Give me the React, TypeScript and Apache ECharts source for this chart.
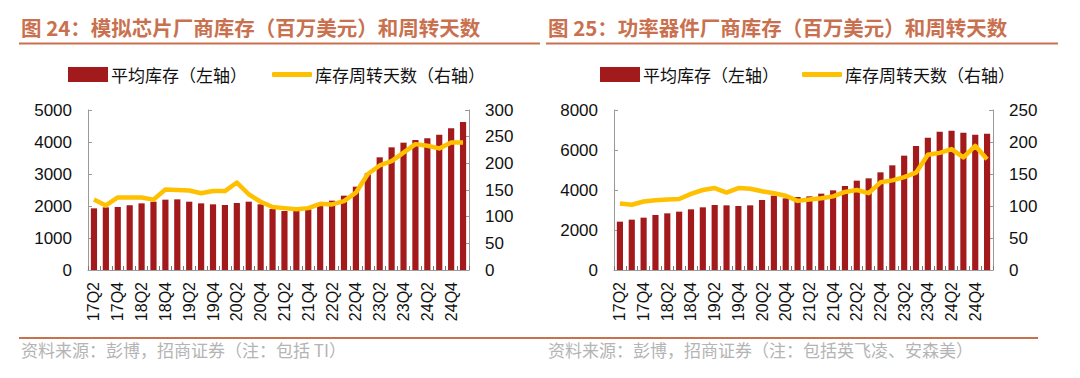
import React, { useEffect, useRef } from "react";
import * as echarts from "echarts";

const categories = [
  "17Q2","17Q3","17Q4","18Q1","18Q2","18Q3","18Q4","19Q1","19Q2","19Q3","19Q4",
  "20Q1","20Q2","20Q3","20Q4","21Q1","21Q2","21Q3","21Q4","22Q1","22Q2","22Q3",
  "22Q4","23Q1","23Q2","23Q3","23Q4","24Q1","24Q2","24Q3","24Q4","25Q1",
];

const analogInventory = [
  1927, 1958, 1969, 2021, 2083, 2135, 2198, 2208, 2135, 2083, 2052, 2031, 2094, 2135, 2052, 1906,
  1844, 1844, 1896, 2000, 2167, 2323, 2604, 3021, 3521, 3833, 3979, 4063, 4115, 4229, 4427, 4625,
];
const analogDays = [
  132, 121, 136, 136, 136, 132, 151, 150, 149, 144, 148, 148, 164, 142, 128, 118,
  116, 114, 116, 124, 123, 129, 145, 180, 196, 204, 220, 236, 233, 228, 239, 239,
];

const powerInventory = [
  2417, 2517, 2617, 2750, 2833, 2917, 3033, 3133, 3250, 3233, 3200, 3233, 3500, 3717, 3583, 3650,
  3683, 3817, 3983, 4200, 4467, 4583, 4883, 5233, 5717, 6200, 6617, 6917, 6967, 6867, 6767, 6817,
];
const powerDays = [
  104, 102, 107, 109, 110, 111, 119, 125, 128, 121, 128, 127, 123, 120, 116, 108,
  110, 112, 115, 122, 125, 120, 137, 140, 145, 152, 180, 183, 189, 176, 194, 173,
];

const barName = "平均库存（左轴）";
const lineName = "库存周转天数（右轴）";
const titleLeft = "图 24：模拟芯片厂商库存（百万美元）和周转天数";
const titleRight = "图 25：功率器件厂商库存（百万美元）和周转天数";
const sourceLeft = "资料来源：彭博，招商证券（注：包括 TI）";
const sourceRight = "资料来源：彭博，招商证券（注：包括英飞凌、安森美）";

const BAR_COLOR = "#A31A1C";
const LINE_COLOR = "#FFC000";
const ACCENT = "#C9714F";
const AXIS_COLOR = "#9a9a9a";
const CJK = "'Noto Sans CJK SC', sans-serif";
const LATIN = "'Liberation Sans', Arial, sans-serif";

export default function App() {
  const ref = useRef<HTMLDivElement>(null);

  useEffect(() => {
    if (!ref.current) return;
    const chart = echarts.init(ref.current, undefined, { renderer: "svg" });

    const xAxisBase = (gridIndex: number) => ({
      type: "category",
      gridIndex,
      data: categories,
      boundaryGap: true,
      axisLine: { lineStyle: { color: AXIS_COLOR, width: 1 } },
      axisTick: { show: true, inside: true, length: 4, interval: 0, lineStyle: { color: "#777" } },
      axisLabel: {
        interval: 1,
        rotate: 90,
        margin: 12,
        fontSize: 16,
        fontFamily: LATIN,
        color: "#111",
      },
      splitLine: { show: false },
    });

    const yAxisBase = (gridIndex: number, max: number, interval: number, position: string) => ({
      type: "value",
      gridIndex,
      min: 0,
      max,
      interval,
      position,
      axisLine: { show: true, lineStyle: { color: AXIS_COLOR, width: 1 } },
      axisTick: { show: true, inside: true, length: 4, lineStyle: { color: AXIS_COLOR } },
      axisLabel: {
        fontSize: 17,
        fontFamily: LATIN,
        color: "#111",
        margin: 16,
        formatter: (v: number) => String(v),
      },
      splitLine: { show: false },
    });

    const legendItem = (left: number, name: string, isLine: boolean) => ({
      left,
      top: 61,
      data: [name],
      itemWidth: 40,
      itemHeight: isLine ? 5 : 15,
      icon: isLine ? "roundRect" : "rect",
      itemGap: 10,
      textStyle: { fontSize: 17, fontFamily: CJK, color: "#111", padding: [0, 0, 0, -2] },
      selectedMode: false,
    });

    const option: any = {
      animation: false,
      backgroundColor: "#ffffff",
      grid: [
        { left: 88, top: 110, width: 381, height: 160 },
        { left: 614, top: 110, width: 379, height: 160 },
      ],
      legend: [
        legendItem(63, barName, false),
        legendItem(267, lineName, true),
        legendItem(595, barName, false),
        legendItem(797, lineName, true),
      ],
      xAxis: [xAxisBase(0), xAxisBase(1)],
      yAxis: [
        yAxisBase(0, 5000, 1000, "left"),
        yAxisBase(0, 300, 50, "right"),
        yAxisBase(1, 8000, 2000, "left"),
        yAxisBase(1, 250, 50, "right"),
      ],
      series: [
        {
          name: barName,
          type: "bar",
          xAxisIndex: 0,
          yAxisIndex: 0,
          data: analogInventory,
          barWidth: "52%",
          itemStyle: { color: BAR_COLOR },
        },
        {
          name: lineName,
          type: "line",
          xAxisIndex: 0,
          yAxisIndex: 1,
          data: analogDays,
          symbol: "none",
          lineStyle: { color: LINE_COLOR, width: 4.5, join: "round" },
          itemStyle: { color: LINE_COLOR },
          z: 5,
        },
        {
          name: barName,
          type: "bar",
          xAxisIndex: 1,
          yAxisIndex: 2,
          data: powerInventory,
          barWidth: "52%",
          itemStyle: { color: BAR_COLOR },
        },
        {
          name: lineName,
          type: "line",
          xAxisIndex: 1,
          yAxisIndex: 3,
          data: powerDays,
          symbol: "none",
          lineStyle: { color: LINE_COLOR, width: 4.5, join: "round" },
          itemStyle: { color: LINE_COLOR },
          z: 5,
        },
      ],
      graphic: [
        {
          type: "text",
          left: 21,
          top: 17,
          style: { text: titleLeft, fontSize: 20.5, fontWeight: "bold", fontFamily: CJK, fill: ACCENT },
        },
        {
          type: "text",
          left: 548,
          top: 17,
          style: { text: titleRight, fontSize: 20.5, fontWeight: "bold", fontFamily: CJK, fill: ACCENT },
        },
        {
          type: "line",
          shape: { x1: 19, y1: 43.5, x2: 540, y2: 43.5 },
          style: { stroke: ACCENT, lineWidth: 2 },
        },
        {
          type: "line",
          shape: { x1: 546, y1: 43.5, x2: 1058, y2: 43.5 },
          style: { stroke: ACCENT, lineWidth: 2 },
        },
        {
          type: "line",
          shape: { x1: 19, y1: 338, x2: 1038, y2: 338 },
          style: { stroke: ACCENT, lineWidth: 2 },
        },
        {
          type: "text",
          left: 21,
          top: 341,
          style: { text: sourceLeft, fontSize: 17, fontFamily: CJK, fill: "#b4b4b4" },
        },
        {
          type: "text",
          left: 548,
          top: 341,
          style: { text: sourceRight, fontSize: 17, fontFamily: CJK, fill: "#b4b4b4" },
        },
      ],
    };

    chart.setOption(option);
    return () => chart.dispose();
  }, []);

  return (
    <div
      ref={ref}
      style={{ position: "fixed", left: 0, top: 0, width: 1080, height: 378, background: "#fff" }}
    />
  );
}
